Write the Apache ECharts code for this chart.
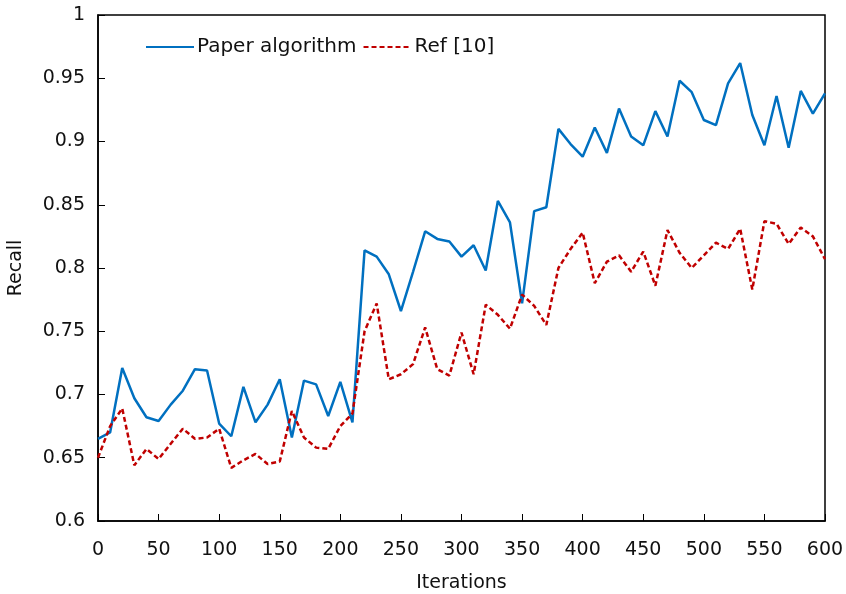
<!DOCTYPE html>
<html>
<head>
<meta charset="utf-8">
<script src="https://cdn.jsdelivr.net/npm/echarts@6/dist/echarts.min.js"></script>
<style>
  html, body { margin: 0; padding: 0; background: #fff; }
  #chart { width: 846px; height: 594px; }
</style>
</head>
<body>
<div id="chart"></div>
<script>
// x: 0, 10, ..., 600
const iterations = []
for (let i = 0; i <= 600; i += 10) iterations.push(i)

const paperAlgorithm = [
  0.665, 0.670, 0.721, 0.697, 0.682, 0.679, 0.692, 0.703, 0.720, 0.719,
  0.677, 0.667, 0.706, 0.678, 0.692, 0.712, 0.666, 0.711, 0.708, 0.683,
  0.710, 0.678, 0.814, 0.809, 0.795, 0.766, 0.797, 0.829, 0.823, 0.821,
  0.809, 0.818, 0.798, 0.853, 0.836, 0.772, 0.845, 0.848, 0.910, 0.898,
  0.888, 0.911, 0.891, 0.926, 0.904, 0.897, 0.924, 0.904, 0.948, 0.939,
  0.917, 0.913, 0.946, 0.962, 0.921, 0.897, 0.936, 0.895, 0.940, 0.922,
  0.938
]

const ref10 = [
  0.650, 0.675, 0.689, 0.644, 0.657, 0.649, 0.661, 0.673, 0.665, 0.666,
  0.673, 0.642, 0.648, 0.653, 0.645, 0.647, 0.687, 0.666, 0.658, 0.657,
  0.675, 0.685, 0.750, 0.772, 0.712, 0.716, 0.724, 0.753, 0.720, 0.715,
  0.749, 0.716, 0.771, 0.763, 0.752, 0.779, 0.770, 0.755, 0.800, 0.815,
  0.828, 0.788, 0.805, 0.810, 0.797, 0.813, 0.786, 0.830, 0.812, 0.800,
  0.810, 0.820, 0.815, 0.831, 0.783, 0.837, 0.835, 0.819, 0.832, 0.825,
  0.807
]

const font = 'Verdana, "DejaVu Sans", sans-serif'
const chart = echarts.init(document.getElementById('chart'))

chart.setOption({
  backgroundColor: '#fff',
  animation: false,
  grid: {
    left: 98, right: 21, top: 15, bottom: 73,
    outerBoundsMode: 'none',
    show: true, borderColor: '#000', borderWidth: 1.5
  },
  legend: {
    left: 140, top: 32,
    itemWidth: 48, itemHeight: 10, itemGap: 6,
    itemStyle: { opacity: 0 },
    textStyle: { fontFamily: font, fontSize: 20, color: '#111', padding: [0, 0, 0, -2] },
    data: ['Paper algorithm', 'Ref [10]']
  },
  xAxis: {
    type: 'value', min: 0, max: 600, interval: 50,
    name: 'Iterations', nameLocation: 'middle', nameGap: 53,
    nameTextStyle: { fontFamily: font, fontSize: 19, color: '#111' },
    axisLine: { lineStyle: { color: '#000', width: 1.5 } },
    axisTick: { inside: true, length: 7, lineStyle: { color: '#000' } },
    axisLabel: { fontFamily: font, fontSize: 19, color: '#111', margin: 20 },
    splitLine: { show: false }
  },
  yAxis: {
    type: 'value', min: 0.6, max: 1, interval: 0.05,
    name: 'Recall', nameLocation: 'middle', nameGap: 72,
    nameTextStyle: { fontFamily: font, fontSize: 19, color: '#111' },
    axisLine: { show: true, lineStyle: { color: '#000', width: 1.5 } },
    axisTick: { show: true, inside: true, length: 7, lineStyle: { color: '#000' } },
    axisLabel: {
      fontFamily: font, fontSize: 19, color: '#111', margin: 13,
      formatter: v => String(+v.toFixed(2))
    },
    splitLine: { show: false }
  },
  series: [
    {
      name: 'Paper algorithm', type: 'line', symbol: 'none',
      data: iterations.map((x, i) => [x, paperAlgorithm[i]]),
      lineStyle: { color: '#0070C0', width: 2.5 },
      itemStyle: { color: '#0070C0' }
    },
    {
      name: 'Ref [10]', type: 'line', symbol: 'none',
      data: iterations.map((x, i) => [x, ref10[i]]),
      lineStyle: { color: '#C00000', width: 2.5, type: [5, 3] },
      itemStyle: { color: '#C00000' }
    }
  ]
})
</script>
</body>
</html>
